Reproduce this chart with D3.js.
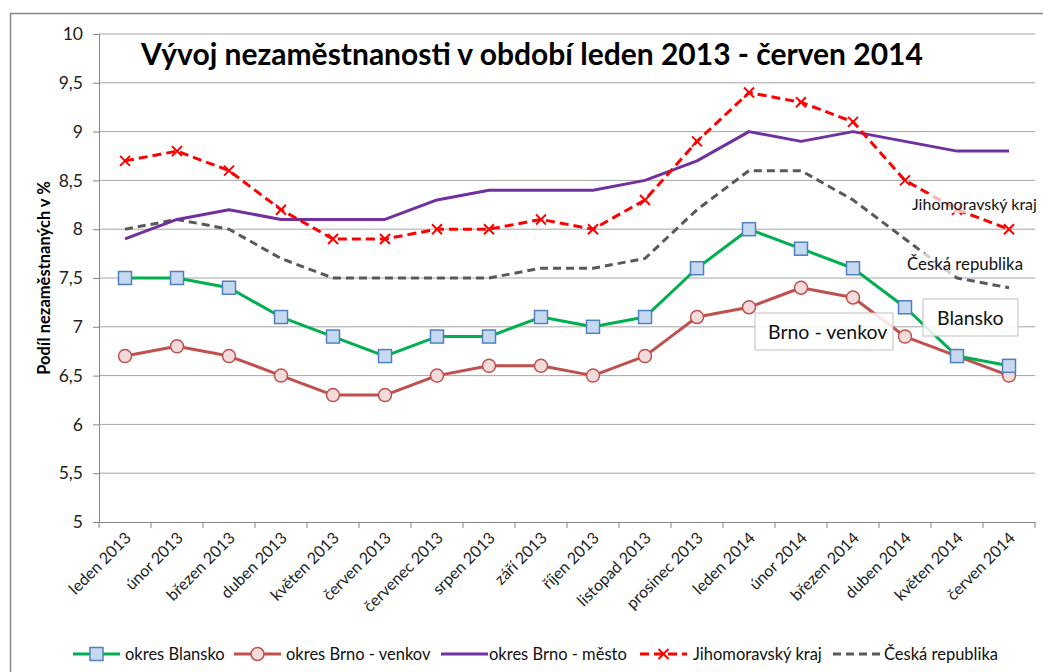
<!DOCTYPE html>
<html>
<head>
<meta charset="utf-8">
<script src="https://cdn.jsdelivr.net/npm/d3@7"></script>
<style>
  body { margin: 0; background: #fff; }
  svg { display: block; font-family: Lato, "Open Sans", sans-serif; }
</style>
</head>
<body>
<svg id="chart" width="1043" height="672"></svg>
<script>
// months on the x axis
const months = ['leden 2013', 'únor 2013', 'březen 2013', 'duben 2013', 'květen 2013', 'červen 2013',
  'červenec 2013', 'srpen 2013', 'září 2013', 'říjen 2013', 'listopad 2013', 'prosinec 2013',
  'leden 2014', 'únor 2014', 'březen 2014', 'duben 2014', 'květen 2014', 'červen 2014'];

const blansko = [7.5, 7.5, 7.4, 7.1, 6.9, 6.7, 6.9, 6.9, 7.1, 7.0, 7.1, 7.6, 8.0, 7.8, 7.6, 7.2, 6.7, 6.6];
const brnoVenkov = [6.7, 6.8, 6.7, 6.5, 6.3, 6.3, 6.5, 6.6, 6.6, 6.5, 6.7, 7.1, 7.2, 7.4, 7.3, 6.9, 6.7, 6.5];
const brnoMesto = [7.9, 8.1, 8.2, 8.1, 8.1, 8.1, 8.3, 8.4, 8.4, 8.4, 8.5, 8.7, 9.0, 8.9, 9.0, 8.9, 8.8, 8.8];
const jmKraj = [8.7, 8.8, 8.6, 8.2, 7.9, 7.9, 8.0, 8.0, 8.1, 8.0, 8.3, 8.9, 9.4, 9.3, 9.1, 8.5, 8.2, 8.0];
const cr = [8.0, 8.1, 8.0, 7.7, 7.5, 7.5, 7.5, 7.5, 7.6, 7.6, 7.7, 8.2, 8.6, 8.6, 8.3, 7.9, 7.5, 7.4];

const yTicks = [5, 5.5, 6, 6.5, 7, 7.5, 8, 8.5, 9, 9.5, 10];

const series = [
  { name: 'okres Blansko', values: blansko, color: '#00b050', dash: null, marker: 'square' },
  { name: 'okres Brno - venkov', values: brnoVenkov, color: '#c0504d', dash: null, marker: 'circle' },
  { name: 'okres Brno - město', values: brnoMesto, color: '#7030a0', dash: null, marker: null },
  { name: 'Jihomoravský kraj', values: jmKraj, color: '#ff0000', dash: '9,5', marker: 'cross' },
  { name: 'Česká republika', values: cr, color: '#595959', dash: '8,5', marker: null }
];

const svg = d3.select('#chart');
const margin = { left: 99, right: 1035, top: 34, bottom: 522 };

// chart border
svg.append('rect')
  .attr('x', 10.5).attr('y', 13.5)
  .attr('width', 1100).attr('height', 700)
  .attr('fill', 'none').attr('stroke', '#868686').attr('stroke-width', 1.5);

const x = d3.scaleBand().domain(months).range([margin.left, margin.right]);
const y = d3.scaleLinear().domain([5, 10]).range([margin.bottom, margin.top]);
const cx = (i) => x(months[i]) + x.bandwidth() / 2;

// gridlines
svg.append('g').selectAll('line').data(yTicks.slice(1)).join('line')
  .attr('x1', margin.left).attr('x2', margin.right)
  .attr('y1', d => y(d)).attr('y2', d => y(d))
  .attr('stroke', '#a6a6a6').attr('stroke-width', 1);

// y axis
const fmt = d => String(d).replace('.', ',');
const yAxis = svg.append('g').attr('transform', `translate(${margin.left},0)`)
  .call(d3.axisLeft(y).tickValues(yTicks).tickFormat(fmt).tickSize(6).tickPadding(10));
yAxis.select('.domain').attr('stroke', '#868686');
yAxis.selectAll('.tick line').attr('stroke', '#868686');
yAxis.selectAll('text').attr('font-size', 17.5).attr('fill', '#222')
  .style('font-family', 'Lato, sans-serif');

// x axis
const xAxis = svg.append('g').attr('transform', `translate(0,${margin.bottom})`)
  .call(d3.axisBottom(x).tickSize(0).tickPadding(0));
xAxis.select('.domain').attr('stroke', '#868686');
xAxis.selectAll('.tick line').remove();
xAxis.selectAll('.tick text')
  .attr('font-size', 16).attr('fill', '#222')
  .attr('text-anchor', 'end')
  .attr('dy', 0)
  .attr('transform', 'translate(7,17) rotate(-45)')
  .style('font-family', 'Lato, sans-serif');
// tick marks on band boundaries
svg.append('g').selectAll('line').data(d3.range(months.length + 1)).join('line')
  .attr('x1', i => margin.left + i * x.bandwidth()).attr('x2', i => margin.left + i * x.bandwidth())
  .attr('y1', margin.bottom).attr('y2', margin.bottom + 6)
  .attr('stroke', '#868686');

// lines
const line = d3.line().x((d, i) => cx(i)).y(d => y(d));
const drawOrder = [4, 2, 3, 1, 0];
drawOrder.forEach(k => {
  const s = series[k];
  svg.append('path').datum(s.values)
    .attr('d', line)
    .attr('fill', 'none')
    .attr('stroke', s.color)
    .attr('stroke-width', 3)
    .attr('stroke-dasharray', s.dash)
    .attr('stroke-linejoin', 'round');
});

function drawMarker(g, type, px, py) {
  if (type === 'square') {
    g.append('rect').attr('x', px - 6.5).attr('y', py - 6.5).attr('width', 13).attr('height', 13)
      .attr('fill', '#c6d9f1').attr('stroke', '#4f81bd').attr('stroke-width', 1.5);
  } else if (type === 'circle') {
    g.append('circle').attr('cx', px).attr('cy', py).attr('r', 6.5)
      .attr('fill', '#f2dcdb').attr('stroke', '#c0504d').attr('stroke-width', 1.5);
  } else if (type === 'cross') {
    g.append('path').attr('d', `M${px - 5},${py - 5}L${px + 5},${py + 5}M${px - 5},${py + 5}L${px + 5},${py - 5}`)
      .attr('stroke', '#ff0000').attr('stroke-width', 2);
  }
}

[3, 1, 0].forEach(k => {
  const s = series[k];
  const g = svg.append('g');
  s.values.forEach((v, i) => drawMarker(g, s.marker, cx(i), y(v)));
});

// title
svg.append('text')
  .attr('x', 532).attr('y', 65)
  .attr('text-anchor', 'middle')
  .attr('font-size', 30).attr('font-weight', 'bold')
  .attr('fill', '#000')
  .text('Vývoj nezaměstnanosti v období leden 2013 - červen 2014');

// y axis title
svg.append('text')
  .attr('transform', 'translate(50,278) rotate(-90)')
  .attr('text-anchor', 'middle')
  .attr('font-size', 16.5).attr('font-weight', 'bold')
  .text('Podíl nezaměstnaných v %');

// data labels on the right
function label(text, lx, ly, size, box) {
  const g = svg.append('g');
  const t = g.append('text').attr('x', lx).attr('y', ly)
    .attr('font-size', size).attr('fill', '#111').text(text);
  const bb = t.node().getBBox();
  if (box) {
    g.insert('rect', 'text')
      .attr('x', box[0]).attr('y', box[1]).attr('width', box[2]).attr('height', box[3])
      .attr('fill', '#fff').attr('fill-opacity', 0.85)
      .attr('stroke', '#bfbfbf');
  } else {
    g.insert('rect', 'text')
      .attr('x', bb.x - 2).attr('y', bb.y).attr('width', bb.width + 4).attr('height', bb.height)
      .attr('fill', '#fff').attr('fill-opacity', 0.7);
  }
}
label('Jihomoravský kraj', 912, 210, 16, null);
label('Česká republika', 907, 270, 16.8, null);
label('Brno - venkov', 768, 339, 19.5, [755, 313, 138, 37]);
label('Blansko', 937, 325, 19.5, [923, 299, 95, 37]);

// legend
const legendItems = [
  { s: series[0], x0: 73, tx: 125 },
  { s: series[1], x0: 234, tx: 286 },
  { s: series[2], x0: 441, tx: 489 },
  { s: series[3], x0: 640, tx: 693 },
  { s: series[4], x0: 833, tx: 884 }
];
const ly = 654;
const lg = svg.append('g');
legendItems.forEach(it => {
  lg.append('line').attr('x1', it.x0).attr('x2', it.x0 + 47).attr('y1', ly).attr('y2', ly)
    .attr('stroke', it.s.color).attr('stroke-width', 3).attr('stroke-dasharray', it.s.dash);
  drawMarker(lg, it.s.marker, it.x0 + 23.5, ly);
  lg.append('text').attr('x', it.tx).attr('y', ly + 6)
    .attr('font-size', 16.5).attr('fill', '#111').text(it.s.name);
});
</script>
</body>
</html>
